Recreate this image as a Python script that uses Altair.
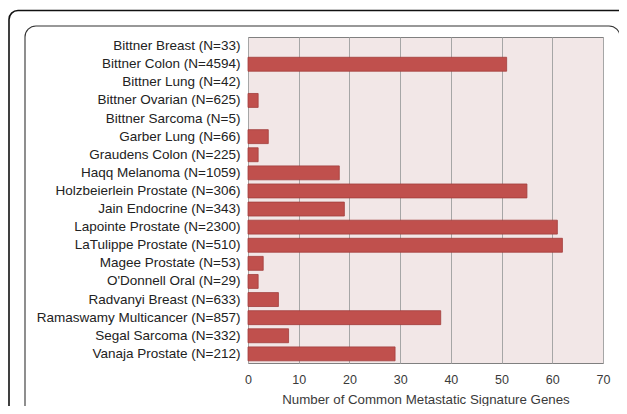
import altair as alt
import pandas as pd

datasets = [
    "Bittner Breast (N=33)", "Bittner Colon (N=4594)", "Bittner Lung (N=42)",
    "Bittner Ovarian (N=625)", "Bittner Sarcoma (N=5)", "Garber Lung (N=66)",
    "Graudens Colon (N=225)", "Haqq Melanoma (N=1059)", "Holzbeierlein Prostate (N=306)",
    "Jain Endocrine (N=343)", "Lapointe Prostate (N=2300)", "LaTulippe Prostate (N=510)",
    "Magee Prostate (N=53)", "O'Donnell Oral (N=29)", "Radvanyi Breast (N=633)",
    "Ramaswamy Multicancer (N=857)", "Segal Sarcoma (N=332)", "Vanaja Prostate (N=212)",
]
genes = [0, 51, 0, 2, 0, 4, 2, 18, 55, 19, 61, 62, 3, 2, 6, 38, 8, 29]
x_ticks = [0, 10, 20, 30, 40, 50, 60, 70]

df = pd.DataFrame({"dataset": datasets, "genes": genes})
FONT = "Liberation Sans"

bars = alt.Chart(df).mark_bar(
    color="#c0504d", stroke="#a23e3c", strokeWidth=0.8
).encode(
    x=alt.X("genes:Q", scale=alt.Scale(domain=[0, 70], nice=False),
            axis=alt.Axis(values=x_ticks, title="Number of Common Metastatic Signature Genes",
                          ticks=False, domain=False, grid=True, gridColor="#a6a6a6",
                          gridWidth=1, labelPadding=10, titlePadding=7, labelFlush=False,
                          labelFontSize=12.5, titleFontSize=13.3, labelColor="#3a3a3a",
                          titleColor="#3a3a3a", labelFont=FONT, titleFont=FONT,
                          titleFontWeight="normal")),
    y=alt.Y("dataset:N", sort=datasets,
            scale=alt.Scale(paddingInner=0.23, paddingOuter=0.12),
            axis=alt.Axis(title=None, ticks=False, domain=False, labelPadding=8,
                          labelFontSize=13.5, labelColor="#222222", labelFont=FONT,
                          labelLimit=400)),
    strokeOpacity=alt.condition("datum.genes > 0", alt.value(1), alt.value(0)),
    fillOpacity=alt.condition("datum.genes > 0", alt.value(1), alt.value(0)),
)

frame_data = alt.Data(values=[{"k": 1}])
outer = alt.Chart(frame_data).mark_rect(
    filled=False, stroke="#111111", strokeWidth=1.6, cornerRadius=9
).encode(x=alt.value(-239), x2=alt.value(392), y=alt.value(-26.5), y2=alt.value(400))
inner = alt.Chart(frame_data).mark_rect(
    filled=False, stroke="#333333", strokeWidth=1.1, cornerRadius=11
).encode(x=alt.value(-223), x2=alt.value(372), y=alt.value(-11), y2=alt.value(410))

chart = alt.layer(bars, outer, inner).properties(
    width=355, height=326,
    autosize=alt.AutoSizeParams(type="none"),
    padding={"left": 240, "top": 29, "right": 16, "bottom": 43},
).configure_view(
    fill="#f2e7e7", stroke="#808080", strokeWidth=1
)

chart.save("out.html", embed_options={"renderer": "svg", "actions": False})
